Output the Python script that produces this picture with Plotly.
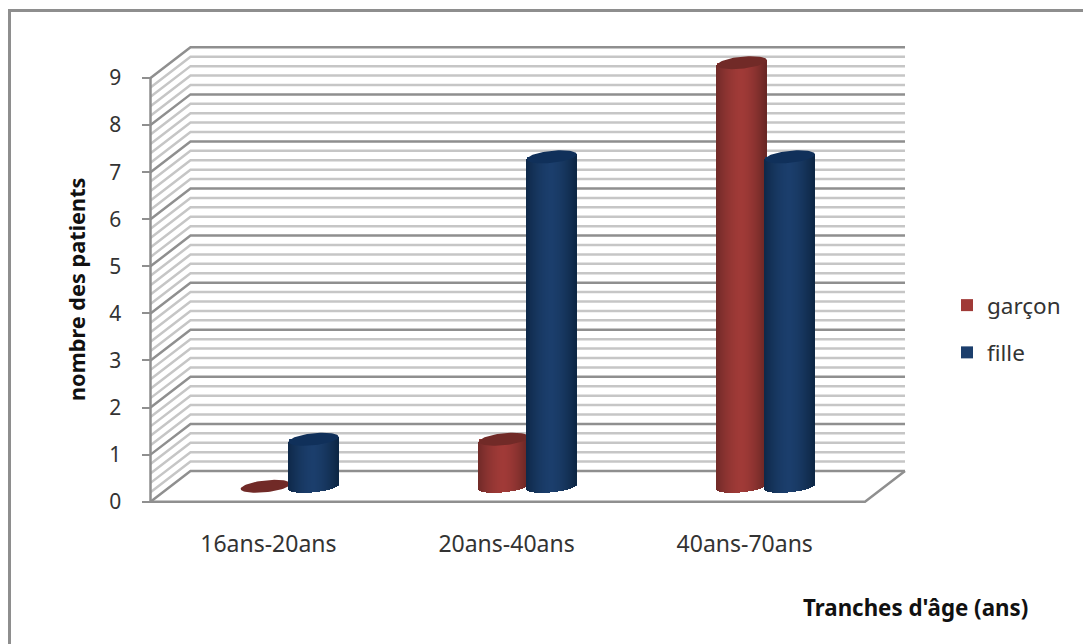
import math
import plotly.graph_objects as go

# Chart data
categories = ["16ans-20ans", "20ans-40ans", "40ans-70ans"]
garcon = [0, 1, 9]
fille = [1, 7, 7]
y_ticks = [0, 1, 2, 3, 4, 5, 6, 7, 8, 9]

W, H = 1083, 644
X_L, X_R = 150.5, 865.0      # front plane, pixels
Y_0, Y_9 = 501.7, 78.0
PX_X = (X_R - X_L) / 3
PX_Y = (Y_0 - Y_9) / 9

# The axes span the whole canvas so the oblique walls stay inside the subplot
X_RANGE = [-X_L / PX_X, (W - X_L) / PX_X]
Y_RANGE = [(Y_0 - H) / PX_Y, Y_0 / PX_Y]

# Oblique projection expressed in axis units
DEPTH_X = 40 / PX_X
DEPTH_Y = 30.7 / PX_Y
CYL_A = 25 / PX_X
CYL_B = 6.0 / PX_Y
CYL_TILT = 2.5 / PX_Y
SERIES_SHIFT = 24 / PX_X
STRIPS = 50

GRID_MAJOR = "#8f8f8f"
GRID_MINOR = "#c6c6c6"
FONT = "Noto Sans"
TEXT = "#333333"


def wall_lines(levels):
    xs, ys = [], []
    for h in levels:
        xs += [0, DEPTH_X, 3 + DEPTH_X, None]
        ys += [h, h + DEPTH_Y, h + DEPTH_Y, None]
    return xs, ys


def shade(edge_l, mid, edge_r, u):
    # u runs from -1 (left edge) to 1 (right edge)
    end = edge_l if u < 0 else edge_r
    k = abs(u) ** 1.6
    return "rgb(%d,%d,%d)" % tuple(round(m + (e - m) * k) for m, e in zip(mid, end))


def cylinder_traces(values, name, shift, mid, left, right, cap, axes):
    xa, ya = axes
    lift = DEPTH_Y / 2
    cx = [i + 0.5 + DEPTH_X / 2 + shift for i in range(len(values))]
    out = [go.Bar(
        x=cx, y=values, base=lift, width=2 * CYL_A, name=name,
        marker=dict(color="rgb(%d,%d,%d)" % mid, line=dict(width=0)),
        xaxis=xa, yaxis=ya, legendgroup=name,
    )]
    sx, sy, sb, sc = [], [], [], []
    for c, v in zip(cx, values):
        if v <= 0:
            continue
        for k in range(STRIPS):
            u = -1 + (2 * k + 1) / STRIPS
            drop = CYL_B * math.sqrt(1 - u * u)
            sx.append(c + u * CYL_A)
            sb.append(lift + CYL_TILT * u - drop)
            sy.append(v + drop)
            sc.append(shade(left, mid, right, u))
    out.append(go.Bar(
        x=sx, y=sy, base=sb, width=2 * CYL_A / STRIPS * 1.15,
        marker=dict(color=sc, line=dict(width=0)),
        xaxis=xa, yaxis=ya, showlegend=False, hoverinfo="skip",
    ))
    ex, ey = [], []
    for c, v in zip(cx, values):
        for k in range(73):
            t = 2 * math.pi * k / 72
            ex.append(c + CYL_A * math.cos(t))
            ey.append(v + lift + CYL_B * math.sin(t) + CYL_TILT * math.cos(t))
        ex.append(None)
        ey.append(None)
    out.append(go.Scatter(
        x=ex, y=ey, mode="lines", fill="toself", fillcolor=cap,
        line=dict(width=0, color=cap),
        xaxis=xa, yaxis=ya, showlegend=False, hoverinfo="skip",
    ))
    return out


def guide(xs, ys, color, width=2.5):
    return go.Scatter(x=xs, y=ys, mode="lines", line=dict(color=color, width=width),
                      showlegend=False, hoverinfo="skip")


minor = [i / 5 for i in range(0, 46) if i % 5]

fig = go.Figure()

# Floor, walls and axis lines
fig.add_trace(guide(*wall_lines(minor), GRID_MINOR))
fig.add_trace(guide(*wall_lines(y_ticks), GRID_MAJOR))
fig.add_trace(guide([0, 0, 3, 3 + DEPTH_X], [y_ticks[-1], 0, 0, DEPTH_Y], GRID_MAJOR))

# Cylinders, one overlaid subplot per series so "fille" sits in front
for tr in cylinder_traces(garcon, "garçon", -SERIES_SHIFT, (160, 58, 55), (112, 42, 40),
                          (104, 38, 36), "#712a27", ("x2", "y2")):
    fig.add_trace(tr)
for tr in cylinder_traces(fille, "fille", SERIES_SHIFT, (27, 62, 108), (14, 40, 72),
                          (13, 38, 68), "#10305a", ("x3", "y3")):
    fig.add_trace(tr)

hidden_x = dict(domain=[0, 1], range=X_RANGE, visible=False, overlaying="x", fixedrange=True)
hidden_y = dict(domain=[0, 1], range=Y_RANGE, visible=False, overlaying="y", fixedrange=True)

fig.update_layout(
    width=W, height=H,
    margin=dict(l=0, r=0, t=0, b=0, autoexpand=False),
    paper_bgcolor="white", plot_bgcolor="rgba(0,0,0,0)",
    barmode="overlay", bargap=0,
    font=dict(family=FONT, size=18, color=TEXT),
    xaxis=dict(
        domain=[0, 1], range=X_RANGE, anchor="free", position=(H - Y_0) / H,
        tickmode="array", tickvals=[0.495, 1.495, 2.495], ticktext=categories,
        showgrid=False, zeroline=False, showline=False, ticks="",
        ticklabelstandoff=26, tickfont=dict(family=FONT, size=23, color=TEXT),
        fixedrange=True,
    ),
    yaxis=dict(
        domain=[0, 1], range=Y_RANGE, anchor="free", position=X_L / W,
        tickmode="array", tickvals=y_ticks,
        showgrid=False, zeroline=False, showline=False,
        ticks="outside", ticklen=9, tickwidth=2, tickcolor=GRID_MAJOR,
        ticklabelstandoff=16, tickfont=dict(family=FONT, size=21, color=TEXT),
        fixedrange=True,
    ),
    xaxis2=hidden_x, yaxis2=hidden_y, xaxis3=hidden_x, yaxis3=hidden_y,
    legend=dict(x=947 / W, y=(H - 284) / H, xanchor="left", yanchor="top",
                font=dict(family=FONT, size=22.5, color=TEXT),
                tracegroupgap=15, bgcolor="rgba(0,0,0,0)"),
    annotations=[
        dict(text="<b>Tranches d'âge (ans)</b>", xref="paper", yref="paper",
             x=915.5 / W, y=(H - 607) / H, xanchor="center", yanchor="middle", showarrow=False,
             font=dict(family=FONT, size=22.3, color="#111111")),
        dict(text="<b>nombre des patients</b>", xref="paper", yref="paper", textangle=-90,
             x=76 / W, y=(H - 290) / H, xanchor="center", yanchor="middle", showarrow=False,
             font=dict(family=FONT, size=21.7, color="#111111")),
    ],
    shapes=[
        dict(type="line", xref="paper", yref="paper", x0=9.5 / W, x1=9.5 / W, y0=0,
             y1=(H - 9) / H, line=dict(color="#8e8e8e", width=3)),
        dict(type="line", xref="paper", yref="paper", x0=8 / W, x1=1, y0=(H - 10.5) / H,
             y1=(H - 10.5) / H, line=dict(color="#8e8e8e", width=3)),
    ],
)

fig.write_html("out.html")
